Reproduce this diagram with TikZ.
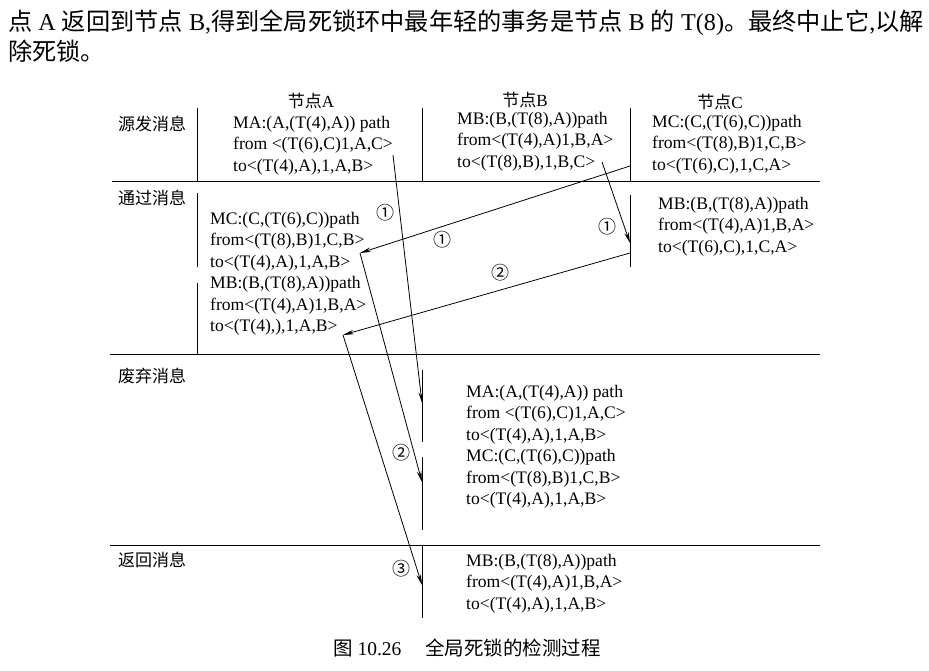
\documentclass[tikz,border=0pt]{standalone}
\usepackage{fontspec}
\setmainfont{Liberation Serif}
\newfontfamily\cjk{Noto Sans CJK SC}
\usetikzlibrary{arrows.meta}
\begin{document}
\begin{tikzpicture}[x=1pt,y=-1pt,
  msg/.style={align=left, anchor=north west, inner sep=0pt, font=\fontsize{17.6}{21.4}\selectfont},
  rowlab/.style={anchor=west, inner sep=0pt, font=\cjk\fontsize{17}{17}\selectfont},
  hdr/.style={inner sep=0pt, font=\fontsize{17}{17}\selectfont},
  num/.style={inner sep=0pt, font=\cjk\fontsize{18}{18}\selectfont},
  para/.style={anchor=west, inner sep=0pt, font=\fontsize{24.2}{24.2}\selectfont},
  rulel/.style={line width=0.8pt},
  arr/.style={line width=0.8pt, -{Stealth[length=11pt,width=4.5pt]}},
]
\useasboundingbox[fill=white] (0,0) rectangle (929,670);

% paragraph text
\node[para] (p1) at (8,23) {{\cjk 点} A {\cjk 返回到节点} B,{\cjk 得到全局死锁环中最年轻的事务是节点} B {\cjk 的} T(8){\cjk 。最终中止它},{\cjk 以解}};
\node[para] (p2) at (8,51) {{\cjk 除死锁。}};

% horizontal rules
\draw[rulel] (112,181) -- (820,181);
\draw[rulel] (110,354) -- (820,354);
\draw[rulel] (110,545) -- (820,545);

% vertical rules, section 1
\draw[rulel] (197,108) -- (197,181);
\draw[rulel] (422,108) -- (422,181);
\draw[rulel] (630,108) -- (630,181);
% section 2
\draw[rulel] (197,193) -- (197,267);
\draw[rulel] (197,283) -- (197,354);
\draw[rulel] (630,195) -- (630,267);
% section 3/4
\draw[rulel] (422,370) -- (422,442);
\draw[rulel] (422,457) -- (422,530);
\draw[rulel] (422,545) -- (422,618);

% row labels
\node[rowlab] (r1) at (118,124) {源发消息};
\node[rowlab] (r2) at (118,198) {通过消息};
\node[rowlab] (r3) at (118,376) {废弃消息};
\node[rowlab] (r4) at (118,560) {返回消息};

% headers
\node[hdr] (hA) at (311,101) {{\cjk 节点}A};
\node[hdr] (hB) at (525,100) {{\cjk 节点}B};
\node[hdr] (hC) at (720,102) {{\cjk 节点}C};

% message blocks
\node[msg] (srcA) at (233,116) {MA:(A,(T(4),A)) path\\from <(T(6),C)1,A,C>\\to<(T(4),A),1,A,B>};
\node[msg] (srcB) at (457,112) {MB:(B,(T(8),A))path\\from<(T(4),A)1,B,A>\\to<(T(8),B),1,B,C>};
\node[msg] (srcC) at (652,115) {MC:(C,(T(6),C))path\\from<(T(8),B)1,C,B>\\to<(T(6),C),1,C,A>};
\node[msg] (passA) at (210,212) {MC:(C,(T(6),C))path\\from<(T(8),B)1,C,B>\\to<(T(4),A),1,A,B>\\MB:(B,(T(8),A))path\\from<(T(4),A)1,B,A>\\to<(T(4),),1,A,B>};
\node[msg] (passC) at (658,197) {MB:(B,(T(8),A))path\\from<(T(4),A)1,B,A>\\to<(T(6),C),1,C,A>};
\node[msg] (disc) at (466,385) {MA:(A,(T(4),A)) path\\from <(T(6),C)1,A,C>\\to<(T(4),A),1,A,B>\\MC:(C,(T(6),C))path\\from<(T(8),B)1,C,B>\\to<(T(4),A),1,A,B>};
\node[msg] (ret) at (466,554) {MB:(B,(T(8),A))path\\from<(T(4),A)1,B,A>\\to<(T(4),A),1,A,B>};

% connector points
\coordinate (maS) at (393,155);
\coordinate (maE) at (422,403);
\coordinate (mbS) at (602,162);
\coordinate (mbE) at (630,243);
\coordinate (mcS) at (630,166);
\coordinate (mcA) at (360,253);
\coordinate (mcE) at (422,482);
\coordinate (mb2S) at (630,253);
\coordinate (mb2A) at (343,335);
\coordinate (mb2E) at (422,585);

\draw[arr] (maS) -- (maE);
\draw[arr] (mbS) -- (mbE);
\draw[arr] (mcS) -- (mcA);
\draw[arr] (mcA) -- (mcE);
\draw[arr] (mb2S) -- (mb2A);
\draw[arr] (mb2A) -- (mb2E);

% circled numbers
\node[num] (n1) at (385,213) {①};
\node[num] (n2) at (442,240) {①};
\node[num] (n3) at (500,273) {②};
\node[num] (n4) at (607,227) {①};
\node[num] (n5) at (401,453) {②};
\node[num] (n6) at (401,569) {③};

% caption
\node[inner sep=0pt, font=\fontsize{19.5}{19.5}\selectfont] (cap) at (467,648) {{\cjk 图} 10.26\hspace{24pt}{\cjk 全局死锁的检测过程}};
\end{tikzpicture}
\end{document}
